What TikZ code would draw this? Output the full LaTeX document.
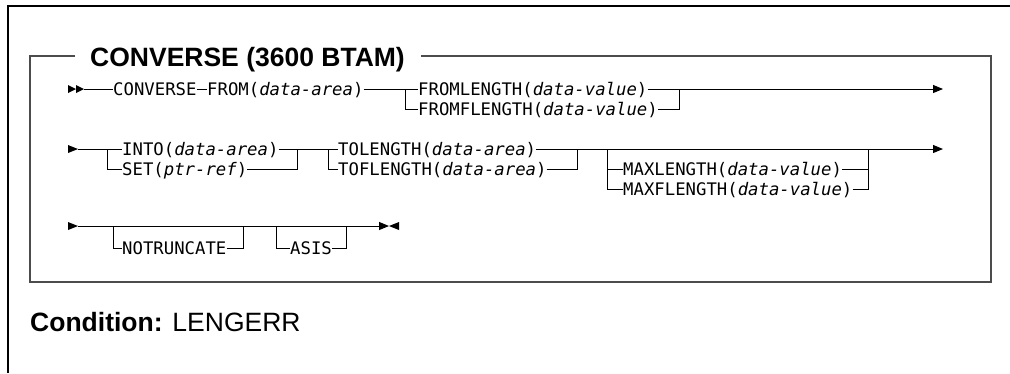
\documentclass[tikz,border=0pt]{standalone}
\usepackage{fontspec}
\setmainfont{Liberation Sans}
\newfontfamily\monof{DejaVu Sans Mono}
\usetikzlibrary{arrows.meta}
\begin{document}
\begin{tikzpicture}[x=1pt,y=-1pt,
  kw/.style={font=\monof\fontsize{17.3}{20}\selectfont, inner sep=0pt, anchor=west, text height=12.6pt, text depth=0pt},
  rail/.style={line width=1pt, black},
  endarrow/.style={rail, -{Triangle[length=10pt,width=8pt]}},
  outerframe/.style={line width=1.8pt, black},
  innerframe/.style={line width=1.8pt, black!70},
  bigtext/.style={font=\fontsize{26.5}{30}\selectfont, inner sep=0pt, anchor=west, text height=19pt, text depth=0pt},
  tip/.style={fill=black}
]
\useasboundingbox (0,0) rectangle (1010,373);
% outer frame
\draw[outerframe] (1010,6) -- (8,6) -- (8,373);
% title and inner box
\node[bigtext,font=\bfseries\fontsize{26.5}{30}\selectfont] (ttl) at (90,57) {CONVERSE (3600 BTAM)};
\draw[innerframe] (75,56) -- (30,56) -- (30,282) -- (991,282) -- (991,56) -- (421,56);

% ---------- row 1 ----------
\fill[tip] (68,85) -- (76,89) -- (68,93) -- cycle;
\fill[tip] (76,85) -- (84,89) -- (76,93) -- cycle;
\coordinate (s1e) at (84,89);
\node[kw] (conv) at (113,89) {CONVERSE};
\node[kw] (from) at (207,89) {FROM(\textit{data-area})};
\node[kw] (fl) at (418,89) {FROMLENGTH(\textit{data-value})};
\node[kw] (ffl) at (418,109) {FROMFLENGTH(\textit{data-value})};
\coordinate (b1l) at (405,89);
\coordinate (b1r) at (679,89);
\coordinate (e1) at (943,89);
\draw[rail] (s1e) -- (conv.west);
\draw[rail] (conv.east) -- (from.west);
\draw[rail] (from.east) -- (fl.west);
\draw[rail] (b1l) |- (ffl.west);
\draw[rail] (ffl.east) -| (b1r);
\draw[endarrow] (fl.east) -- (e1);

% ---------- row 2 ----------
\fill[tip] (68,145) -- (78,149) -- (68,153) -- cycle;
\coordinate (s2e) at (78,149);
\node[kw] (into) at (122,149) {INTO(\textit{data-area})};
\node[kw] (set) at (122,169) {SET(\textit{ptr-ref})};
\coordinate (b2a) at (107,149);
\coordinate (b2b) at (297,149);
\node[kw] (tol) at (338,149) {TOLENGTH(\textit{data-area})};
\node[kw] (tofl) at (338,169) {TOFLENGTH(\textit{data-area})};
\coordinate (b2c) at (328,149);
\coordinate (b2d) at (577,149);
\coordinate (b2e) at (607,149);
\node[kw] (maxl) at (623,169) {MAXLENGTH(\textit{data-value})};
\node[kw] (maxfl) at (623,189) {MAXFLENGTH(\textit{data-value})};
\coordinate (b2f) at (868,149);
\coordinate (e2) at (943,149);
\draw[rail] (s2e) -- (into.west);
\draw[rail] (b2a) |- (set.west);
\draw[rail] (into.east) -- (tol.west);
\draw[rail] (set.east) -| (b2b);
\draw[rail] (b2c) |- (tofl.west);
\draw[rail] (tofl.east) -| (b2d);
\draw[endarrow] (tol.east) -- (e2);
\draw[rail] (b2e) |- (maxl.west);
\draw[rail] (b2e) |- (maxfl.west);
\draw[rail] (maxl.east) -| (b2f);
\draw[rail] (maxfl.east) -| (b2f);

% ---------- row 3 ----------
\fill[tip] (68,222) -- (78,226) -- (68,230) -- cycle;
\coordinate (s3e) at (78,226);
\coordinate (e3) at (389,226);
\node[kw] (notr) at (122,248) {NOTRUNCATE};
\node[kw] (asis) at (290,248) {ASIS};
\coordinate (b3a) at (113,226);
\coordinate (b3b) at (243,226);
\coordinate (b3c) at (276,226);
\coordinate (b3d) at (346,226);
\draw[rail, -{Triangle[length=10pt,width=8pt]}] (s3e) -- (e3);
\fill[tip] (399,222) -- (389,226) -- (399,230) -- cycle;
\draw[rail] (b3a) |- (notr.west);
\draw[rail] (notr.east) -| (b3b);
\draw[rail] (b3c) |- (asis.west);
\draw[rail] (asis.east) -| (b3d);

% ---------- condition ----------
\node[bigtext] (cond) at (30,322) {\textbf{Condition:} LENGERR};
\end{tikzpicture}
\end{document}
